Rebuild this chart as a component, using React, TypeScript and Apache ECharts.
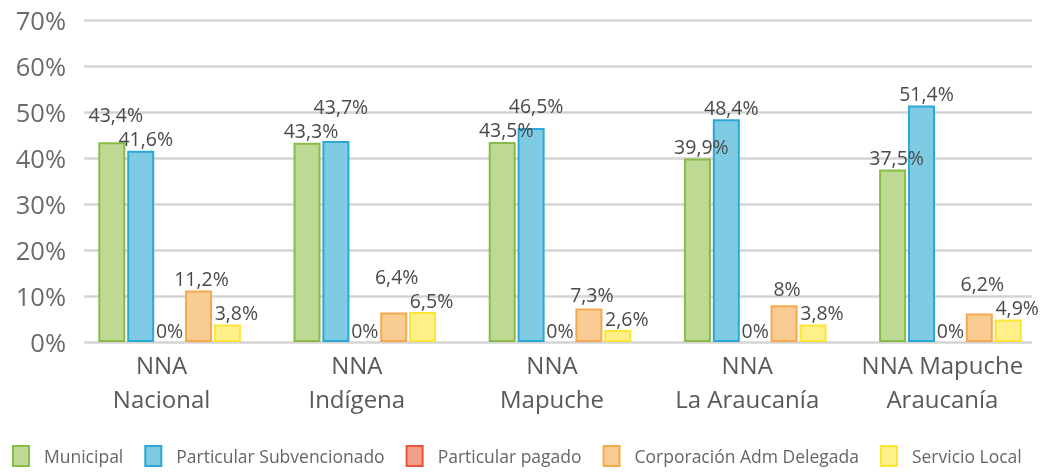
import React, { useEffect, useRef } from "react";
import * as echarts from "echarts";

const categories = ["NNA\nNacional", "NNA\nIndígena", "NNA\nMapuche", "NNA\nLa Araucanía", "NNA Mapuche\nAraucanía"];
const seriesNames = ["Municipal", "Particular Subvencionado", "Particular pagado", "Corporación Adm Delegada", "Servicio Local"];
const municipal = [43.4, 43.3, 43.5, 39.9, 37.5];
const subvencionado = [41.6, 43.7, 46.5, 48.4, 51.4];
const pagado = [0, 0, 0, 0, 0];
const corporacion = [11.2, 6.4, 7.3, 8, 6.2];
const servicioLocal = [3.8, 6.5, 2.6, 3.8, 4.9];
const yTicks = [0, 10, 20, 30, 40, 50, 60, 70];

const fills = ["#bdd994", "#80cbe4", "#f4a08b", "#f9cc93", "#fff08a"];
const borders = ["#88bc46", "#2ba8d5", "#e8543a", "#f6a84f", "#fce534"];
const labelDx = [4, 5, 0, 3, 9];
const LABEL_STEP = 24;

const FONT = "'Open Sans', sans-serif";

export default function App() {
  const ref = useRef<HTMLDivElement>(null);
  useEffect(() => {
    if (!ref.current) return;
    const chart = echarts.init(ref.current, null, { renderer: "svg" });
    const values = [municipal, subvencionado, pagado, corporacion, servicioLocal];
    const partner: Record<number, number> = { 0: 1, 1: 0, 3: 4, 4: 3 };

    const labelLayout = (p: any) => {
      const si = p.seriesIndex;
      const di = p.dataIndex;
      const out: any = { dx: labelDx[si] };
      if (!(si in partner)) return out;
      const v = values[si][di];
      const pi = partner[si];
      const pv = values[pi][di];
      if (!v) return out;
      const k = p.rect.height / v;
      const dyPx = (v - pv) * k;
      if (Math.abs(dyPx) >= LABEL_STEP) return out;
      const isLeft = si < pi;
      let raised: boolean;
      if (Math.abs(v - pv) < 0.2) raised = isLeft;
      else raised = v > pv;
      if (raised) out.dy = -(LABEL_STEP - dyPx);
      return out;
    };

    chart.setOption({
      animation: false,
      textStyle: { fontFamily: FONT },
      legend: {
        bottom: 1,
        left: 7,
        itemWidth: 16,
        itemHeight: 20,
        itemGap: 21,
        icon: "rect",
        textStyle: { fontSize: 17.5, color: "#666666", fontFamily: FONT, padding: [0, 0, 0, 10] },
        data: seriesNames,
      },
      grid: [
        { left: 72, right: 7, top: 20, bottom: 131 },
        { left: 84, right: 23, top: 20, bottom: 131 },
      ],
      xAxis: [
        {
          type: "category",
          gridIndex: 0,
          data: categories,
          axisLine: { show: false },
          axisTick: { show: false },
          axisLabel: {
            fontSize: 24,
            color: "#595959",
            lineHeight: 34,
            margin: 5,
            padding: [0, 16, 0, 0],
            fontFamily: FONT,
            interval: 0,
          },
        },
        { type: "value", gridIndex: 1, show: false, min: 0, max: 1 },
      ],
      yAxis: [
        { type: "value", gridIndex: 0, min: 0, max: yTicks[yTicks.length - 1], interval: 10, show: false },
        {
          type: "value",
          gridIndex: 1,
          min: yTicks[0],
          max: yTicks[yTicks.length - 1],
          interval: 10,
          axisLine: { show: false },
          axisTick: { show: false },
          splitLine: { lineStyle: { color: "#d4d4d4", width: 2.5 } },
          axisLabel: {
            formatter: "{value}%",
            fontSize: 25.5,
            color: "#6b6b6b",
            margin: 18,
            fontFamily: FONT,
          },
        },
      ],
      series: seriesNames.map((name, i) => ({
        name,
        type: "bar",
        xAxisIndex: 0,
        yAxisIndex: 0,
        data: values[i].map((v) => (v === 0 ? { value: v, itemStyle: { borderWidth: 0 } } : v)),
        barWidth: 27,
        barGap: "7%",
        itemStyle: { color: fills[i], borderColor: borders[i], borderWidth: 2 },
        labelLayout,
        label: {
          show: true,
          position: "top",
          distance: 2,
          lineHeight: 20,
          fontSize: 19.5,
          color: "#4a4a4a",
          fontFamily: FONT,
          formatter: (p: any) => String(p.value).replace(".", ",") + "%",
        },
      })),
    });
    return () => chart.dispose();
  }, []);
  return <div ref={ref} style={{ position: "fixed", left: 0, top: 0, width: 1055, height: 473 }} />;
}
